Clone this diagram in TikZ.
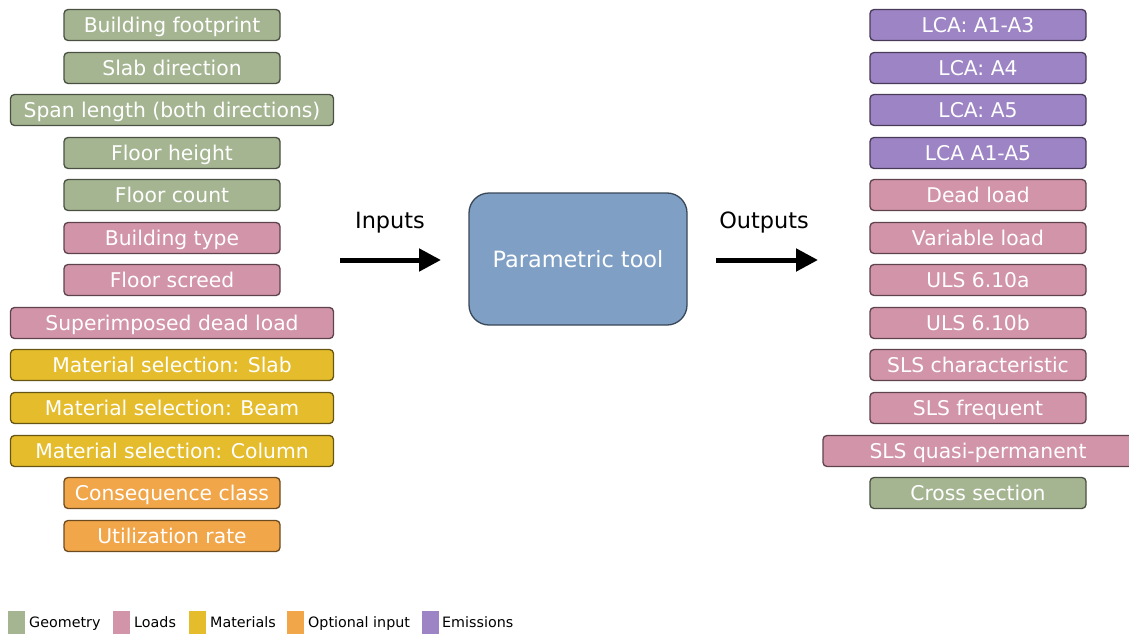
\documentclass[tikz,border=0pt]{standalone}
\usepackage{fontspec}
\setmainfont{DejaVu Sans}
\usetikzlibrary{arrows.meta}
\definecolor{geo}{HTML}{A5B592}
\definecolor{load}{HTML}{D294A8}
\definecolor{mat}{HTML}{E4BC2C}
\definecolor{opt}{HTML}{F2A64A}
\definecolor{emi}{HTML}{9D84C4}
\definecolor{tool}{HTML}{7F9FC4}
\tikzset{
  tag/.style={draw=#1!45!black, fill=#1, line width=1.3pt, rounded corners=4pt,
    text=white, font=\fontsize{20.3}{20}\selectfont, minimum height=31pt, inner sep=0pt,
    text height=14.8pt, text depth=0pt},
  narrow/.style={minimum width=216pt},
  wide/.style={minimum width=323pt},
  owide/.style={minimum width=310pt},
  key/.style={fill=#1, minimum width=17pt, minimum height=23pt, inner sep=0pt},
  keytext/.style={font=\fontsize{14.3}{14}\selectfont, anchor=west, inner sep=0pt,
    text height=10.4pt, text depth=0pt},
  bigtext/.style={font=\fontsize{22.4}{22}\selectfont, inner sep=0pt,
    text height=16.3pt, text depth=0pt},
  bigarrow/.style={line width=5pt, -{Triangle[length=22pt,width=22pt]}},
}
\begin{document}
\begin{tikzpicture}[x=1pt,y=-1pt]
\useasboundingbox (0,0) rectangle (1129,634);
% inputs
\node[tag=geo,narrow]  (i1)  at (172,25)  {Building footprint};
\node[tag=geo,narrow]  (i2)  at (172,68)  {Slab direction};
\node[tag=geo,wide]    (i3)  at (172,110) {Span length (both directions)};
\node[tag=geo,narrow]  (i4)  at (172,153) {Floor height};
\node[tag=geo,narrow]  (i5)  at (172,195) {Floor count};
\node[tag=load,narrow] (i6)  at (172,238) {Building type};
\node[tag=load,narrow] (i7)  at (172,280) {Floor screed};
\node[tag=load,wide]   (i8)  at (172,323) {Superimposed dead load};
\node[tag=mat,wide]    (i9)  at (172,365) {Material selection: Slab};
\node[tag=mat,wide]    (i10) at (172,408) {Material selection: Beam};
\node[tag=mat,wide]    (i11) at (172,451) {Material selection: Column};
\node[tag=opt,narrow]  (i12) at (172,493) {Consequence class};
\node[tag=opt,narrow]  (i13) at (172,536) {Utilization rate};
% outputs
\node[tag=emi,narrow]  (o1)  at (978,25)  {LCA: A1-A3};
\node[tag=emi,narrow]  (o2)  at (978,68)  {LCA: A4};
\node[tag=emi,narrow]  (o3)  at (978,110) {LCA: A5};
\node[tag=emi,narrow]  (o4)  at (978,153) {LCA A1-A5};
\node[tag=load,narrow] (o5)  at (978,195) {Dead load};
\node[tag=load,narrow] (o6)  at (978,238) {Variable load};
\node[tag=load,narrow] (o7)  at (978,280) {ULS 6.10a};
\node[tag=load,narrow] (o8)  at (978,323) {ULS 6.10b};
\node[tag=load,narrow] (o9)  at (978,365) {SLS characteristic};
\node[tag=load,narrow] (o10) at (978,408) {SLS frequent};
\node[tag=load,owide]  (o11) at (978,451) {SLS quasi-permanent};
\node[tag=geo,narrow]  (o12) at (978,493) {Cross section};
% central tool
\node[draw=tool!45!black, fill=tool, line width=1.3pt, rounded corners=20pt,
  minimum width=218pt, minimum height=132pt, text=white, bigtext] (tool) at (578,259) {Parametric tool};
% arrows
\coordinate (ia) at (340,260);
\coordinate (ib) at (441,260);
\coordinate (oa) at (716,260);
\coordinate (ob) at (818,260);
\draw[bigarrow] (ia) -- (ib);
\draw[bigarrow] (oa) -- (ob);
\node[bigtext] (lin)  at (390,220) {Inputs};
\node[bigtext] (lout) at (764,220) {Outputs};
% legend
\node[key=geo]  (k1) at (16.5,622) {};
\node[keytext]  (t1) at (29,622) {Geometry};
\node[key=load] (k2) at (121.5,622) {};
\node[keytext]  (t2) at (134,622) {Loads};
\node[key=mat]  (k3) at (197,622) {};
\node[keytext]  (t3) at (210,622) {Materials};
\node[key=opt]  (k4) at (295.5,622) {};
\node[keytext]  (t4) at (308,622) {Optional input};
\node[key=emi]  (k5) at (430,622) {};
\node[keytext]  (t5) at (442,622) {Emissions};
\end{tikzpicture}
\end{document}
